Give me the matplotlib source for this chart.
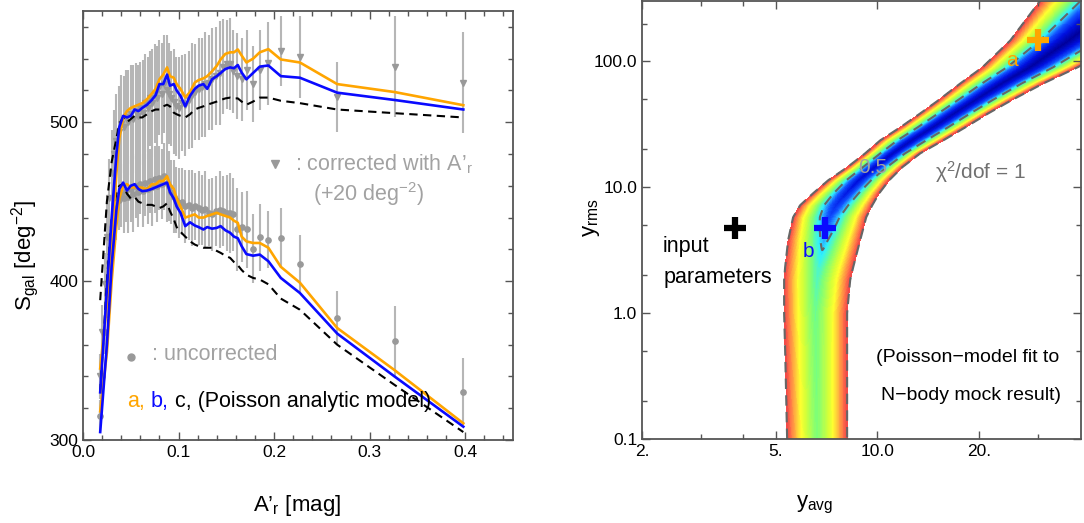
import numpy as np
import matplotlib
matplotlib.use("Agg")
import matplotlib.pyplot as plt
from matplotlib.colors import LinearSegmentedColormap
from matplotlib.ticker import MultipleLocator, FixedLocator, FixedFormatter, NullFormatter

# ---------------- left panel: S_gal vs A'_r ----------------
A_obs = [0.0175, 0.020, 0.0225, 0.025, 0.0275, 0.030, 0.0325, 0.035, 0.0375, 0.040,
         0.0425, 0.045, 0.0475, 0.050, 0.0525, 0.055, 0.0575, 0.060, 0.0625, 0.065,
         0.0675, 0.070, 0.0725, 0.075, 0.0775, 0.080, 0.0825, 0.085, 0.0875, 0.090,
         0.0925, 0.095, 0.0975, 0.100, 0.1035, 0.107, 0.1105, 0.114, 0.1175, 0.121,
         0.1245, 0.128, 0.1315, 0.135, 0.139, 0.143, 0.147, 0.151, 0.154, 0.157,
         0.161, 0.166, 0.172, 0.178, 0.185, 0.194, 0.207, 0.227, 0.266, 0.326, 0.398]

# uncorrected counts
S_unc = [315, 340, 368, 392, 412, 426, 438, 446, 451, 455,
         452, 457, 453, 458, 455, 460, 456, 461, 457, 462,
         458, 463, 459, 464, 460, 465, 461, 466, 462, 460,
         456, 453, 451, 449, 450, 447, 448, 446, 447, 446,
         445, 445.5, 443, 442, 444, 445, 444, 443, 443, 442,
         432.5, 434, 432.5, 420.5, 427.6, 426, 427, 411, 376.8, 362, 330.5]
err_unc = [10, 12, 14, 15, 16, 18, 18, 20, 19, 21,
           22, 20, 23, 21, 24, 20, 22, 19, 23, 21,
           22, 20, 24, 21, 23, 20, 22, 21, 25, 22,
           20, 23, 21, 22, 21, 23, 22, 24, 21, 23,
           22, 24, 21, 23, 22, 24, 22, 24, 25, 23,
           26, 22, 24, 22, 21, 18, 19, 18, 17, 22.5, 21]

# corrected with A'_r (+20 deg^-2)
S_cor = [340, 368, 398, 428, 452, 468, 480, 488, 494, 499,
         497, 503, 500, 505, 502, 507, 504, 509, 506, 512,
         509, 515, 512, 518, 515, 522, 518, 524, 520, 518,
         515, 513, 510, 509, 512, 511, 514, 517, 519, 521,
         522, 524, 525, 527, 529, 531, 535, 536.6, 536.6, 532,
         529, 527, 533, 524, 533, 537, 544.6, 541, 515.6, 535, 525]
err_cor = [14, 17, 20, 23, 25, 27, 28, 30, 29, 31,
           32, 30, 33, 31, 34, 30, 32, 29, 33, 31,
           32, 30, 34, 31, 33, 30, 32, 31, 35, 32,
           30, 33, 31, 32, 30, 32, 31, 33, 30, 32,
           31, 33, 30, 32, 31, 33, 30, 28, 29, 26,
           27, 26, 25, 24, 25, 26, 22, 26, 22, 32, 31.5]

# Poisson analytic model curves (a: orange, b: blue, c: black dashed)
A_mod = [0.018, 0.025, 0.030, 0.035, 0.038, 0.042, 0.046, 0.050, 0.054, 0.058,
         0.062, 0.067, 0.072, 0.076, 0.080, 0.084, 0.088, 0.091, 0.095, 0.098,
         0.102, 0.107, 0.112, 0.117, 0.121, 0.126, 0.130, 0.135, 0.140, 0.144,
         0.149, 0.154, 0.158, 0.162, 0.166, 0.171, 0.178, 0.185, 0.194, 0.207,
         0.227, 0.266, 0.326, 0.398]

up_a = [345, 385, 425, 468, 490, 503, 507, 509, 510, 511,
        512, 514.5, 518, 521, 527, 530, 534.5, 529, 528, 524,
        521, 515.6, 519, 525, 526.5, 527.6, 529, 532, 535.5, 539.5,
        543, 544, 544, 545.8, 542, 537.6, 540, 544, 546, 539.5,
        537.6, 524, 519, 510.7]
up_b = [330, 395, 440, 480, 497, 504, 503, 504, 508, 507,
        509, 511, 514, 517, 524, 524, 530, 523, 524, 520,
        516.6, 510, 516.6, 521, 523, 524, 521, 527, 529, 531,
        533.5, 534.5, 534, 536, 531.3, 527, 531, 535, 535.7, 529,
        528, 518.6, 514, 508]
up_c = [388, 450, 475, 490, 499, 503, 500, 502, 504, 503,
        503, 505, 507, 508, 508, 510, 511, 510, 506, 505,
        504, 503, 505, 508, 509, 510, 511, 512, 513, 514,
        515, 515.5, 515, 515, 513, 511, 513, 515.5, 515.5, 513.5,
        512, 508, 505.7, 503]

lo_a = [318, 355, 400, 435, 452, 460, 461, 459, 459, 459,
        458.8, 457.7, 461, 461, 463, 463, 466, 461, 458, 452,
        447, 440, 441, 442, 440, 440, 441, 442, 443, 442,
        441, 440, 438, 436.7, 428, 425, 424, 424, 421, 409,
        399, 370.5, 344, 310.5]
lo_b = [305, 360, 410, 445, 458, 462, 457, 460, 461, 458,
        456.6, 457, 458, 459, 460, 461, 462, 456, 452, 447,
        443, 434.6, 437, 435, 434, 432.5, 434, 433, 433.5, 434.6,
        432, 430.4, 428, 427, 422, 417, 416, 416.7, 412.5, 402,
        392.5, 367, 340, 308.4]
lo_c = [330, 400, 440, 455, 460, 461, 455, 452, 453, 450,
        449, 448, 448, 447, 446, 447, 449, 444, 439, 434,
        431, 428, 425, 423, 422, 421, 421, 421, 419, 417.8,
        416, 414.6, 412, 410, 407, 404, 402, 401, 398, 389,
        382, 360, 334.7, 305]

# ---------------- right panel: chi^2/dof map ----------------
# horizontal slices of the chi^2/dof = 1 band
band_yrms = [0.1, 0.5085, 1.0, 1.828, 2.318, 3.797, 5.780, 7.196, 8.963, 11.36,
             14.41, 18.61, 23.60, 29.94, 38.67, 49.04, 66.89, 89.64, 146.8, 304.9]
band_left = [5.393, 5.320, 5.283, 5.283, 5.320, 5.430, 5.618, 5.893, 6.442, 7.139,
             8.128, 9.193, 10.19, 11.68, 13.40, 15.15, 17.62, 20.47, 24.79, 30.44]
band_right = [8.128, 8.128, 8.128, 8.299, 8.472, 8.886, 9.26, 9.65, 10.12, 10.83,
              11.84, 13.40, 15.68, 18.23, 21.33, 24.96, 31.08, 39.21, 55.21, 90.95]
band_min = [0.62, 0.61, 0.60, 0.57, 0.55, 0.47, 0.38, 0.33, 0.29, 0.26,
            0.23, 0.21, 0.20, 0.19, 0.18, 0.18, 0.17, 0.16, 0.15, 0.15]

cross_input = (3.78, 4.73)
cross_a = (29.9, 148.6)
cross_b = (6.97, 4.73)

ORANGE = "#ffa500"
BLUE = "#0a0aff"
GRAY_PT = "#999999"
GRAY_BAR = "#b6b6b6"
GRAY_TXT = "#a2a2a2"
SPINE = "#555555"

plt.rcParams.update({
    "font.family": ["Liberation Sans", "DejaVu Sans"],
    "mathtext.fontset": "custom",
    "mathtext.rm": "Liberation Sans",
    "mathtext.it": "Liberation Sans:italic",
    "mathtext.bf": "Liberation Sans:bold",
    "xtick.direction": "in",
    "ytick.direction": "in",
    "xtick.top": True,
    "ytick.right": True,
    "xtick.major.size": 6,
    "ytick.major.size": 6,
    "xtick.minor.size": 3.5,
    "ytick.minor.size": 3.5,
    "xtick.major.width": 1.0,
    "ytick.major.width": 1.0,
    "xtick.minor.width": 1.0,
    "ytick.minor.width": 1.0,
    "xtick.color": SPINE,
    "ytick.color": SPINE,
    "xtick.labelcolor": "black",
    "ytick.labelcolor": "black",
    "xtick.labelsize": 12.5,
    "ytick.labelsize": 12.5,
})

W, H = 1084, 523
fig = plt.figure(figsize=(W / 100, H / 100), dpi=100)


def px_axes(x0, y0, x1, y1):
    return fig.add_axes([x0 / W, 1 - y1 / H, (x1 - x0) / W, (y1 - y0) / H])


# ---------- left ----------
ax1 = px_axes(83, 11, 513, 440)
ax1.errorbar(A_obs, S_unc, yerr=err_unc, fmt="o", ms=3.8, color=GRAY_PT,
             ecolor=GRAY_BAR, elinewidth=1.5, capsize=0, zorder=1)
ax1.errorbar(A_obs, S_cor, yerr=err_cor, fmt="v", ms=4.8, color=GRAY_PT,
             ecolor=GRAY_BAR, elinewidth=1.5, capsize=0, zorder=1)

for yc, ya, yb in ((up_c, up_a, up_b), (lo_c, lo_a, lo_b)):
    ax1.plot(A_mod, yc, color="black", lw=1.5, ls=(0, (4, 2.6)), zorder=3)
    ax1.plot(A_mod, ya, color=ORANGE, lw=1.9, zorder=4)
    ax1.plot(A_mod, yb, color=BLUE, lw=1.9, zorder=5)

ax1.set_xlim(0, 0.45)
ax1.set_ylim(300, 570)
ax1.xaxis.set_major_locator(FixedLocator([0.0, 0.1, 0.2, 0.3, 0.4]))
ax1.xaxis.set_major_formatter(FixedFormatter(["0.0", "0.1", "0.2", "0.3", "0.4"]))
ax1.xaxis.set_minor_locator(MultipleLocator(0.02))
ax1.yaxis.set_major_locator(FixedLocator([300, 400, 500]))
ax1.yaxis.set_minor_locator(MultipleLocator(20))
for s in ax1.spines.values():
    s.set_color(SPINE)
    s.set_linewidth(1.3)

ax1.plot([0.201], [473.5], "v", ms=6, color=GRAY_PT)
ax1.text(0.222, 473.5, ": corrected with A’$_\\mathrm{r}$", color=GRAY_TXT,
         fontsize=15.5, va="center")
ax1.text(0.241, 454.6, "(+20 deg$^{-2}$)", color=GRAY_TXT, fontsize=15.5, va="center")
ax1.plot([0.0503], [352.5], "o", ms=5, color=GRAY_PT)
ax1.text(0.072, 353.8, ": uncorrected", color=GRAY_TXT, fontsize=15.5, va="center")
ax1.text(0.0458, 324.2, "a,", color=ORANGE, fontsize=15.5, va="center")
ax1.text(0.0702, 324.2, "b,", color=BLUE, fontsize=15.5, va="center")
ax1.text(0.0963, 324.2, "c, (Poisson analytic model)", color="black",
         fontsize=15.5, va="center", zorder=6)

fig.text(25 / W, 1 - 255 / H, "S$_\\mathrm{gal}$ [deg$^{-2}$]", rotation=90,
         fontsize=16, ha="center", va="center")
fig.text(297 / W, 1 - 505 / H, "A’$_\\mathrm{r}$ [mag]", fontsize=16,
         ha="center", va="center")

# ---------- right ----------
ax2 = px_axes(642, 0.5, 1081, 439)

u = np.linspace(np.log10(2.0), np.log10(41.0), 700)
v = np.linspace(-1.0, np.log10(320.0), 700)
U, V = np.meshgrid(u, v)
lv = np.log10(band_yrms)
Lc = np.interp(V, lv, np.log10(band_left))
Rc = np.interp(V, lv, np.log10(band_right))
Mc = np.interp(V, lv, band_min)
cen = (Lc + Rc) / 2
hw = (Rc - Lc) / 2
chi = Mc + (1 - Mc) * np.abs((U - cen) / hw) ** 1.25

vmin, vmax = 0.15, 1.0
stops = [(0.15, "#00009a"), (0.28, "#0010e0"), (0.40, "#1050ff"),
         (0.47, "#2aa8ff"), (0.52, "#2ef0ff"), (0.62, "#7cff78"),
         (0.73, "#d4ff38"), (0.80, "#ffff30"), (0.88, "#ffb040"),
         (0.95, "#ff7048"), (1.00, "#f04848")]
cmap = LinearSegmentedColormap.from_list(
    "rb", [((c - vmin) / (vmax - vmin), col) for c, col in stops])
X, Y = 10 ** U, 10 ** V
ax2.contourf(X, Y, chi, levels=np.linspace(vmin, vmax, 70), cmap=cmap,
             vmin=vmin, vmax=vmax)
ax2.contour(X, Y, chi, levels=[0.5, 1.0], colors="#666666",
            linewidths=1.5, linestyles=[(0, (5, 3))])

ax2.set_xscale("log")
ax2.set_yscale("log")
ax2.set_xlim(2.0, 40.2)
ax2.set_ylim(0.1, 305)

ax2.plot(*cross_input, marker="+", ms=16, mew=4.5, color="black", ls="none")
ax2.plot(*cross_b, marker="+", ms=16, mew=4.5, color=BLUE, ls="none")
ax2.plot(*cross_a, marker="+", ms=16, mew=4.5, color=ORANGE, ls="none")

ax2.xaxis.set_major_locator(FixedLocator([2, 5, 10, 20]))
ax2.xaxis.set_major_formatter(FixedFormatter(["2.", "5.", "10.0", "20."]))
ax2.xaxis.set_minor_locator(FixedLocator([3, 4, 30]))
ax2.xaxis.set_minor_formatter(NullFormatter())
ax2.yaxis.set_major_locator(FixedLocator([0.1, 1, 10, 100]))
ax2.yaxis.set_major_formatter(FixedFormatter(["0.1", "1.0", "10.0", "100.0"]))
ax2.yaxis.set_minor_locator(FixedLocator([0.2, 0.5, 2, 5, 20, 50, 200]))
ax2.yaxis.set_minor_formatter(NullFormatter())
for s in ax2.spines.values():
    s.set_color(SPINE)
    s.set_linewidth(1.3)

ax2.text(2.31, 3.40, "input", fontsize=15.5, va="center", ha="left")
ax2.text(2.31, 1.93, "parameters", fontsize=15.5, va="center", ha="left")
ax2.text(9.71, 14.4, "0.5", fontsize=15, color=GRAY_TXT, ha="center", va="center")
ax2.text(20.2, 13.2, "χ$^2$/dof = 1", fontsize=15, color="#707070",
         ha="center", va="center")
ax2.text(25.1, 101.9, "a", fontsize=15, color=ORANGE, ha="center", va="center")
ax2.text(6.23, 3.07, "b", fontsize=15, color=BLUE, ha="center", va="center")
ax2.text(34.7, 0.448, "(Poisson\u2212model fit to", fontsize=14,
         ha="right", va="center")
ax2.text(35.0, 0.223, "N\u2212body mock result)", fontsize=14,
         ha="right", va="center")

fig.text(592 / W, 1 - 218 / H, "y$_\\mathrm{rms}$", rotation=90, fontsize=16,
         ha="center", va="center")
fig.text(815 / W, 1 - 505 / H, "y$_\\mathrm{avg}$", fontsize=16,
         ha="center", va="center")

fig.savefig("out.png", dpi=100)
